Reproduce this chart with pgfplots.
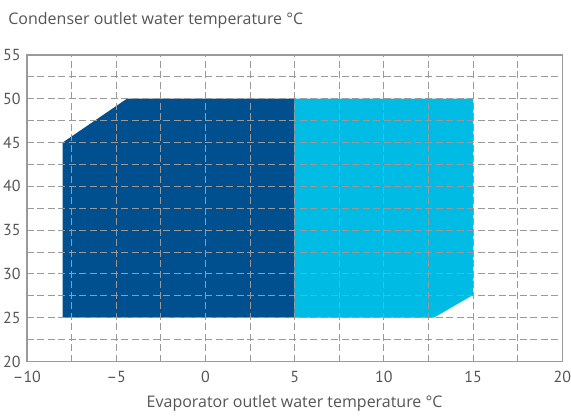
\documentclass[border=0pt]{standalone}
\usepackage{fontspec}
\setmainfont{Open Sans}
\newfontfamily\tickfont{PT Sans}
\usepackage{pgfplots}
\pgfplotsset{compat=1.18}
\definecolor{darkblue}{HTML}{004F8F}
\definecolor{lightblue}{HTML}{00BBE4}
\definecolor{txtgray}{HTML}{555555}
\definecolor{gridgray}{HTML}{9A9A9A}
\begin{document}
\begin{tikzpicture}
\begin{axis}[
  scale only axis,
  width=268pt, height=153.5pt,
  xmin=-10, xmax=20, ymin=20, ymax=55,
  xtick={-10,-5,0,5,10,15,20},
  xticklabels={–10,–5,0,5,10,15,20},
  ytick={20,25,...,55},
  minor x tick num=1, minor y tick num=1,
  grid=both,
  major grid style={gridgray, dash pattern=on 3.5pt off 1.75pt, line width=0.5pt},
  minor grid style={gridgray, dash pattern=on 3.5pt off 1.75pt, line width=0.5pt},
  major tick length=0pt, minor tick length=0pt,
  axis line style={gridgray, line width=0.6pt},
  axis on top,
  tick label style={font=\tickfont\fontsize{8}{9}\selectfont, text=txtgray, inner sep=0pt},
  /pgf/number format/assume math mode=true,
  xticklabel style={yshift=-4.5pt},
  yticklabel style={xshift=-3pt},
  xlabel={Evaporator outlet water temperature °C},
  xlabel style={font=\fontsize{8}{10}\selectfont, text=txtgray, yshift=-3pt},
  clip=false,
]
\addplot[fill=darkblue, draw=none] coordinates {(-8,25) (-8,45) (-4.4,50) (5,50) (5,25)} -- cycle;
\addplot[fill=lightblue, draw=none] coordinates {(5,25) (5,50) (15,50) (15,27.6) (12.8,25)} -- cycle;
\node[anchor=base west, font=\fontsize{8}{10}\selectfont, text=txtgray, inner sep=0pt]
  at ([xshift=-9.5pt, yshift=15pt]rel axis cs:0,1) {Condenser outlet water temperature °C};
\path ([xshift=-13.5pt, yshift=27.5pt]rel axis cs:0,1) ([xshift=4pt, yshift=-26pt]rel axis cs:1,0);
\end{axis}
\end{tikzpicture}
\end{document}
